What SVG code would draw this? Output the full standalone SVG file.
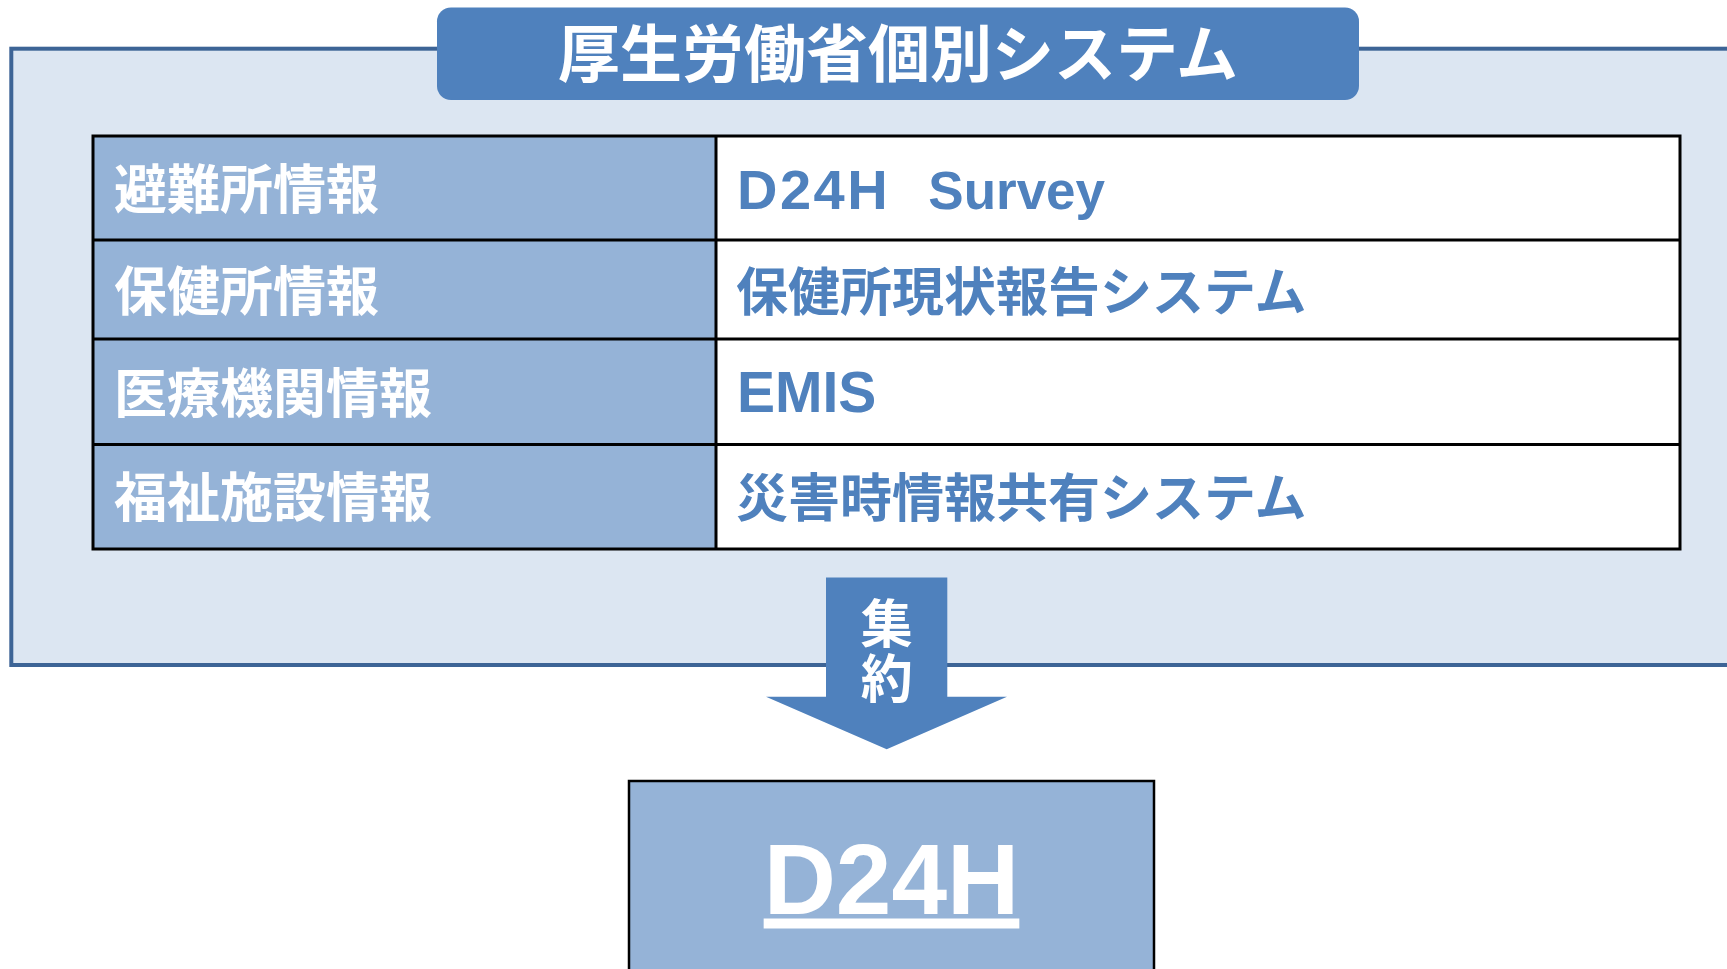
<svg xmlns="http://www.w3.org/2000/svg" width="1727" height="969" viewBox="0 0 1727 969">
<style>
.cjk{font-family:"Noto Sans CJK JP","Liberation Sans",sans-serif;font-weight:bold}
.lat{font-family:"Liberation Sans","Noto Sans CJK JP",sans-serif;font-weight:bold}
.hdr{fill:#95B3D7;stroke:none}
.val{fill:#FFFFFF;stroke:none}
.grid{stroke:#000;stroke-width:3;fill:none}
.wt{fill:#FFFFFF}
.bt{fill:#4F81BD}
</style>
<rect width="1727" height="969" fill="#FFFFFF"/>
<g id="frame">
<rect x="11.3" y="48.7" width="1730" height="616.3" fill="#DCE6F2" stroke="#3D6496" stroke-width="4"/>
</g>
<g id="title">
<rect x="437" y="7.5" width="922" height="92.5" rx="14" ry="14" fill="#4F81BD"/>
<text class="cjk wt" x="898" y="77" font-size="62" text-anchor="middle">厚生労働省個別システム</text>
</g>
<g id="table">
<rect class="hdr" x="93" y="136" width="623" height="413"/>
<rect class="val" x="716" y="136" width="964" height="413"/>
<g id="row1">
<text class="cjk wt" x="114" y="209" font-size="53">避難所情報</text>
<text class="lat bt" x="737" y="209" font-size="56" xml:space="preserve"><tspan letter-spacing="2.5">D24H</tspan>  <tspan dx="7" font-size="53">Survey</tspan></text>
</g>
<g id="row2">
<text class="cjk wt" x="114" y="311" font-size="53">保健所情報</text>
<text class="cjk bt" x="736" y="311" font-size="52">保健所現状報告システム</text>
</g>
<g id="row3">
<text class="cjk wt" x="114" y="413" font-size="53">医療機関情報</text>
<text class="lat bt" x="737" y="412" font-size="57">EMIS</text>
</g>
<g id="row4">
<text class="cjk wt" x="114" y="517" font-size="53">福祉施設情報</text>
<text class="cjk bt" x="736" y="517" font-size="52">災害時情報共有システム</text>
</g>
<rect class="grid" x="93" y="136" width="1587" height="413"/>
<line class="grid" x1="93" y1="240" x2="1680" y2="240"/>
<line class="grid" x1="93" y1="339" x2="1680" y2="339"/>
<line class="grid" x1="93" y1="444.5" x2="1680" y2="444.5"/>
<line class="grid" x1="716" y1="136" x2="716" y2="549"/>
</g>
<g id="connectors">
<g id="arrow">
<polygon points="826,577.5 947.3,577.5 947.3,696.7 1007,696.7 886.7,749.3 766,696.7 826,696.7" fill="#4F81BD"/>
<text class="cjk wt" x="886.7" y="597.5" font-size="52" letter-spacing="3" style="writing-mode:vertical-rl">集約</text>
</g>
</g>
<g id="d24h">
<rect x="629" y="781" width="525" height="200" fill="#95B3D7" stroke="#000" stroke-width="2.5"/>
<text class="lat wt" x="891.5" y="913.5" font-size="100" text-anchor="middle" text-decoration="underline">D24H</text>
</g>
</svg>
